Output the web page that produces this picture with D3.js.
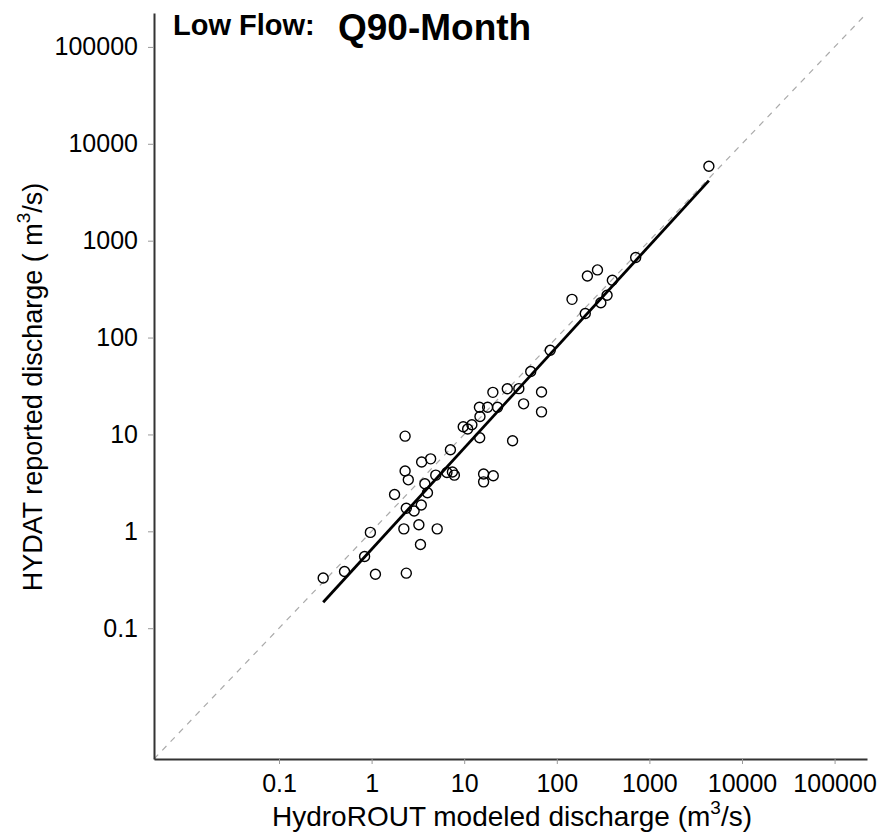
<!DOCTYPE html>
<html><head><meta http-equiv="Content-Type" content="text/html; charset=UTF-8"><style>
body { margin: 0; background: #fff; }
svg { font-family: "Liberation Sans", Arial, sans-serif; }
.axis .domain { stroke: #333; stroke-width: 2; }
.axis .tick line { stroke: #999; }
.axis .tick text { fill: #000; font-size: 25px; }
</style>
</head>
<body>
<svg width="882" height="837"></svg>
<script src="https://cdn.jsdelivr.net/npm/d3@7"></script>
<script>

// HydroROUT modeled (x) vs HYDAT reported (y), m3/s
var modeled = [0.30, 0.51, 0.84, 0.97, 1.10, 2.37, 2.30, 3.47, 4.34, 2.30,
               2.49, 1.77, 3.76, 4.01, 4.93, 7.10, 6.51, 7.46, 7.83, 2.37,
               2.88, 3.44, 2.23, 3.24, 5.11, 3.37, 9.76, 10.9, 12.1, 14.6,
               17.9, 22.9, 14.8, 14.7, 16.2, 16.2, 20.6, 20.4, 29.2, 38.9,
               68.4, 43.8, 68.4, 52.3, 33.3, 84.9, 146, 214, 275, 398,
               299, 349, 203, 711, 4390];
var reported = [0.33, 0.385, 0.55, 0.975, 0.36, 0.37, 9.6, 5.2, 5.6, 4.2,
                3.4, 2.4, 3.1, 2.5, 3.8, 6.95, 4.05, 4.1, 3.8, 1.73,
                1.62, 1.87, 1.06, 1.17, 1.06, 0.73, 12.0, 11.4, 12.6, 19.1,
                19.1, 19.1, 15.3, 9.25, 3.9, 3.24, 3.74, 27.2, 29.6, 29.7,
                27.4, 20.7, 17.1, 44.6, 8.6, 74, 248, 432, 499, 390,
                229, 273, 177, 670, 5860];
var tickVals = [0.1, 1, 10, 100, 1000, 10000, 100000];
// log-log fit: log10(y) = fitB + fitM * log10(x)
var fitM = 1.045, fitB = -0.186;
var axisLo = Math.pow(10, -2.35), axisHi = Math.pow(10, 5.35);

var svg = d3.select("svg"),
    plot = {left: 154, right: 867, top: 13, bottom: 759};

var x = d3.scaleLog().domain([axisLo, axisHi]).range([plot.left, plot.right]);
var y = d3.scaleLog().domain([axisLo, axisHi]).range([plot.bottom, plot.top]);

var fmt = function(d) { return String(d); };

// 1:1 line
svg.append("line")
    .attr("x1", x(axisLo)).attr("y1", y(axisLo))
    .attr("x2", x(axisHi)).attr("y2", y(axisHi))
    .attr("stroke", "#aaa")
    .attr("stroke-width", 1.2)
    .attr("stroke-dasharray", "6,6");

// fitted line over the range of the data
var xs = d3.extent(modeled);
var fitLine = d3.line()
    .x(function(d) { return x(d); })
    .y(function(d) { return y(Math.pow(10, fitB + fitM * Math.log10(d))); });
svg.append("path")
    .datum(xs)
    .attr("d", fitLine)
    .attr("fill", "none")
    .attr("stroke", "#000")
    .attr("stroke-width", 2.8);

svg.append("g")
    .selectAll("circle")
    .data(modeled)
    .enter().append("circle")
      .attr("cx", function(d) { return x(d); })
      .attr("cy", function(d, i) { return y(reported[i]); })
      .attr("r", 5)
      .attr("fill", "none")
      .attr("stroke", "#000")
      .attr("stroke-width", 1.4);

svg.append("g")
    .attr("class", "axis")
    .attr("transform", "translate(0," + plot.bottom + ")")
    .call(d3.axisBottom(x).tickValues(tickVals).tickFormat(fmt).tickSize(5).tickSizeOuter(0).tickPadding(10));

svg.append("g")
    .attr("class", "axis")
    .attr("transform", "translate(" + plot.left + ",0)")
    .call(d3.axisLeft(y).tickValues(tickVals).tickFormat(fmt).tickSize(6).tickSizeOuter(0).tickPadding(10));

// axis titles
var xl = svg.append("text")
    .attr("x", 512).attr("y", 826)
    .attr("text-anchor", "middle")
    .attr("font-size", 28);
xl.append("tspan").text("HydroROUT modeled discharge (m");
xl.append("tspan").attr("dy", -12).attr("font-size", 19).text("3");
xl.append("tspan").attr("dy", 12).text("/s)");

var yl = svg.append("text")
    .attr("transform", "translate(42,387) rotate(-90)")
    .attr("text-anchor", "middle")
    .attr("font-size", 27);
yl.append("tspan").text("HYDAT reported discharge ( m");
yl.append("tspan").attr("dy", -12).attr("font-size", 19).text("3");
yl.append("tspan").attr("dy", 12).text("/s)");

// title
svg.append("text")
    .attr("x", 173).attr("y", 35)
    .attr("font-size", 29).attr("font-weight", "bold")
    .text("Low Flow:");
svg.append("text")
    .attr("x", 338).attr("y", 40)
    .attr("font-size", 37).attr("font-weight", "bold")
    .text("Q90-Month");

</script>
</body></html>
